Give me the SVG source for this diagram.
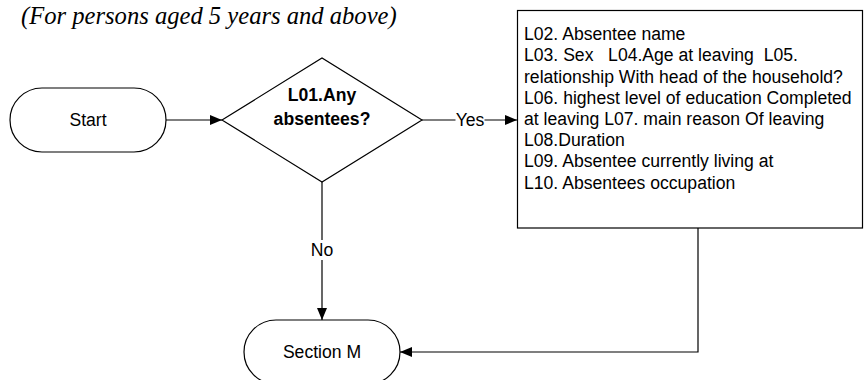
<svg xmlns="http://www.w3.org/2000/svg" width="864" height="380" viewBox="0 0 864 380">
<defs>
<marker id="arrow" markerUnits="userSpaceOnUse" markerWidth="13" markerHeight="11" refX="12" refY="5" orient="auto">
<path d="M0,0 L12,5 L0,10 Z" fill="#000"/>
</marker>
<style>
.shape{fill:#fff;stroke:#000;stroke-width:1.2}
.edge{fill:none;stroke:#000;stroke-width:1.2}
.t{font-family:"Liberation Sans",Arial,sans-serif;font-size:17.6px;fill:#000}
.c{text-anchor:middle}
.b{font-weight:bold}
.title{font-family:"Liberation Serif","Times New Roman",serif;font-style:italic;font-size:24.6px;fill:#000}
.lbg{fill:#fff;stroke:none}
</style>
</defs>
<rect width="864" height="380" fill="#fff"/>
<text class="title" x="21" y="24">(For persons aged 5 years and above)</text>

<g id="connectors">
<line class="edge" x1="166" y1="120" x2="222" y2="120" marker-end="url(#arrow)"/>
<line class="edge" x1="422" y1="120" x2="517" y2="120" marker-end="url(#arrow)"/>
<rect class="lbg" x="455.5" y="110" width="29" height="20"/>
<text class="t c" x="470" y="126">Yes</text>
<line class="edge" x1="322" y1="182" x2="322" y2="320" marker-end="url(#arrow)"/>
<rect class="lbg" x="310" y="240" width="24" height="20"/>
<text class="t c" x="322" y="256">No</text>
<polyline class="edge" points="698,228 698,352 400,352" marker-end="url(#arrow)"/>
</g>

<g id="start">
<rect class="shape" x="10" y="88" width="156" height="64" rx="32" ry="32"/>
<text class="t c" x="88" y="126">Start</text>
</g>

<g id="decision">
<polygon class="shape" points="222,120 322,58 422,120 322,182"/>
<text class="t c b" x="322" y="101">L01.Any</text>
<text class="t c b" x="322" y="125">absentees?</text>
</g>

<g id="absentee-details">
<rect class="shape" x="517.5" y="10.5" width="345" height="217.5"/>
<text class="t" x="524" y="40.2">L02. Absentee name</text>
<text class="t" x="524" y="61.4" xml:space="preserve">L03. Sex   L04.Age at leaving  L05.</text>
<text class="t" x="524" y="82.6">relationship With head of the household?</text>
<text class="t" x="524" y="103.8">L06. highest level of education Completed</text>
<text class="t" x="524" y="125">at leaving L07. main reason Of leaving</text>
<text class="t" x="524" y="146.2">L08.Duration</text>
<text class="t" x="524" y="167.4">L09. Absentee currently living at</text>
<text class="t" x="524" y="188.6">L10. Absentees occupation</text>
</g>

<g id="section-m">
<rect class="shape" x="244" y="320" width="156" height="64" rx="32" ry="32"/>
<text class="t c" x="322" y="358">Section M</text>
</g>
</svg>
